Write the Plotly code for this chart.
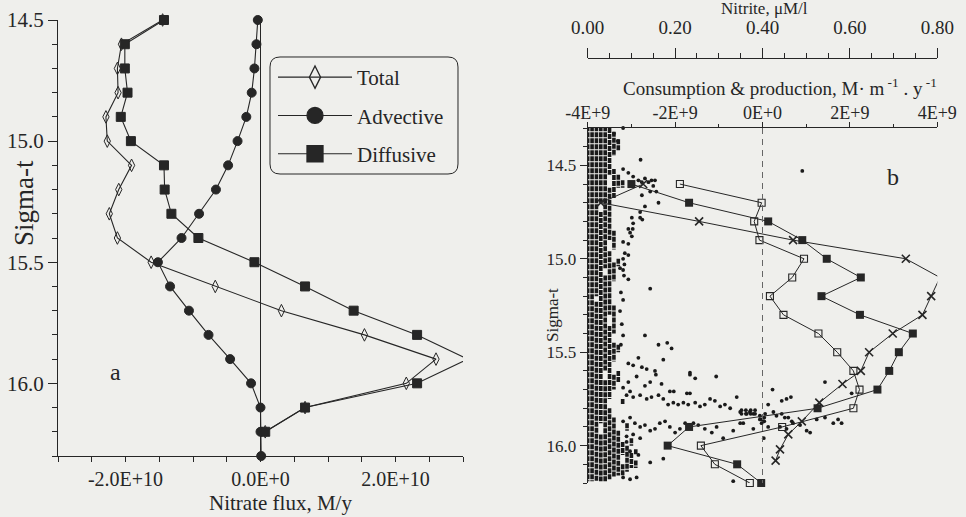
import plotly.graph_objects as go

# ---------------- Panel a: nitrate flux profiles ----------------
sigma_a = [14.5, 14.6, 14.7, 14.8, 14.9, 15.0, 15.1, 15.2, 15.3, 15.4,
           15.5, 15.6, 15.7, 15.8, 15.9, 16.0, 16.1, 16.2, 16.3]
# fluxes in units of 1E+10 M/y
total_flux = [-1.45, -2.06, -2.12, -2.11, -2.29, -2.27, -1.91, -2.10, -2.24, -2.12,
              -1.62, -0.67, 0.31, 1.54, 2.60, 2.16, 0.66, 0.07, None]
advective_flux = [-0.04, -0.06, -0.09, -0.13, -0.21, -0.34, -0.48, -0.66, -0.91, -1.17,
                  -1.52, -1.34, -1.06, -0.77, -0.45, -0.14, 0.0, 0.0, 0.01]
diffusive_flux = [-1.43, -2.01, -2.01, -1.97, -2.07, -1.92, -1.43, -1.42, -1.32, -0.92,
                  -0.09, 0.66, 1.38, 2.32, 3.07, 2.32, 0.66, 0.07, None]
flux_ticks = [-2e10, 0, 2e10]
flux_ticktext = ["-2.0E+10", "0.0E+0", "2.0E+10"]
sigma_ticks = [14.5, 15.0, 15.5, 16.0]
sigma_ticktext = ["14.5", "15.0", "15.5", "16.0"]

# ---------------- Panel b: consumption & production ----------------
sigma_open = [14.6, 14.7, 14.8, 14.9, 15.0, 15.1, 15.2, 15.3, 15.4, 15.5,
              15.6, 15.7, 15.8, 15.9, 16.0, 16.1, 16.2]
open_sq = [-1.89, -0.02, -0.19, -0.07, 0.95, 0.68, 0.17, 0.48, 1.28, 1.71,
           2.08, 2.22, 2.08, 0.45, -1.41, -1.09, -0.29]
sigma_filled = [14.6, 14.7, 14.8, 14.9, 15.0, 15.1, 15.2, 15.3, 15.4, 15.5,
                15.6, 15.7, 15.8, 15.9, 16.0, 16.1, 16.2]
filled_sq = [-3.0, -1.68, 0.13, 0.91, 1.47, 2.25, 1.35, 2.23, 3.44, 3.12,
             2.90, 2.63, 1.26, -1.68, -2.17, -0.58, -0.03]
sigma_cross = [14.6, 14.7, 14.8, 14.9, 15.0, 15.1, 15.2, 15.3, 15.4, 15.5,
               15.6, 15.67, 15.77, 15.87, 15.94, 16.02, 16.08]
cross_vals = [-2.73, -3.70, -1.45, 0.70, 3.28, 4.06, 3.86, 3.66, 2.98, 2.44,
              2.25, 1.83, 1.30, 0.90, 0.59, 0.40, 0.30]
cons_ticks = [-4e9, -2e9, 0, 2e9, 4e9]
cons_ticktext = ["-4E+9", "-2E+9", "0E+0", "2E+9", "4E+9"]
nitrite_ticks = [0.0, 0.2, 0.4, 0.6, 0.8]
nitrite_ticktext = ["0.00", "0.20", "0.40", "0.60", "0.80"]

# Nitrite samples: quantised values (0.01 uM) sampled densely in sigma-t;
# each column lists the sigma-t stretches that are continuously sampled.
dense_nitrite = [0.00, 0.01, 0.02, 0.03, 0.04, 0.05, 0.06, 0.07, 0.08, 0.09, 0.10, 0.11]
dense_runs = [
    [(14.29, 16.19)],
    [(14.29, 16.19)],
    [(14.29, 15.20), (15.23, 16.19)],
    [(14.29, 14.70), (14.75, 15.88), (15.94, 16.19)],
    [(14.29, 15.05), (15.09, 15.60), (15.65, 16.19)],
    [(14.30, 14.55), (14.62, 14.90), (14.96, 15.30), (15.36, 15.75), (15.80, 16.18)],
    [(14.32, 14.45), (14.52, 14.68), (14.85, 14.95), (15.02, 15.12), (15.25, 15.40),
     (15.45, 15.55), (15.62, 15.70), (15.85, 16.17)],
    [(14.36, 14.42), (14.55, 14.62), (15.00, 15.04), (15.46, 15.50), (15.60, 15.66),
     (15.92, 16.16)],
    [(14.58, 14.62), (15.75, 15.78), (15.98, 16.05), (16.10, 16.16)],
    [(15.88, 15.92), (16.00, 16.14)],
    [(15.96, 16.00), (16.04, 16.12)],
    [(16.02, 16.05), (16.08, 16.12)],
]
sparse_nitrite = [
    0.060, 0.081, 0.069, 0.121, 0.081, 0.093, 0.104, 0.116, 0.124, 0.131, 0.139, 0.146,
    0.150, 0.143, 0.162, 0.124, 0.131, 0.120, 0.104, 0.093, 0.101, 0.081, 0.093, 0.154,
    0.157, 0.101, 0.120, 0.125, 0.103, 0.097, 0.085, 0.093, 0.491,
    0.081, 0.084, 0.074, 0.081, 0.083, 0.093, 0.143, 0.076, 0.081, 0.074, 0.078, 0.081,
    0.076, 0.131, 0.162, 0.182, 0.192, 0.173, 0.093, 0.104, 0.116, 0.124, 0.135, 0.154, 0.234,
    0.112, 0.156, 0.234, 0.246, 0.294, 0.093, 0.131, 0.143, 0.169, 0.081, 0.097,
    0.188, 0.197, 0.227, 0.234, 0.089, 0.104, 0.120, 0.135, 0.146, 0.162,
    0.173, 0.184, 0.196, 0.207, 0.219, 0.230, 0.246, 0.257, 0.268, 0.280, 0.291, 0.303,
    0.314, 0.326, 0.341, 0.349, 0.364, 0.371, 0.379,
    0.081, 0.097, 0.108, 0.120, 0.131, 0.143, 0.154, 0.165, 0.177, 0.188, 0.200, 0.211,
    0.223, 0.242, 0.253, 0.268, 0.284, 0.295, 0.310, 0.333, 0.356, 0.379, 0.398, 0.413,
    0.089, 0.104, 0.120, 0.089, 0.097, 0.116, 0.143, 0.173, 0.081, 0.097, 0.112, 0.333,
    0.423, 0.543, 0.444, 0.455, 0.465, 0.604, 0.413, 0.425, 0.432, 0.444, 0.451, 0.459, 0.467,
    0.440, 0.455, 0.470, 0.486, 0.501, 0.509, 0.543, 0.562, 0.573, 0.581, 0.403, 0.349,
    0.524, 0.398, 0.406,
    0.352, 0.352, 0.362, 0.362, 0.373, 0.373, 0.383, 0.383, 0.394, 0.394, 0.404, 0.404,
]
sparse_sigma = [
    14.33, 14.30, 14.37, 14.47, 14.52, 14.54, 14.56, 14.58, 14.59, 14.57, 14.59, 14.58,
    14.61, 14.64, 14.70, 14.66, 14.72, 14.78, 14.81, 14.84, 14.88, 14.91, 14.92, 14.58,
    14.64, 14.78, 14.75, 14.79, 14.84, 14.86, 14.97, 14.98, 14.53,
    15.00, 15.03, 15.05, 15.06, 15.09, 15.11, 15.16, 15.18, 15.22, 15.28, 15.35, 15.41,
    15.46, 15.41, 15.46, 15.45, 15.48, 15.54, 15.56, 15.57, 15.53, 15.58, 15.59, 15.60, 15.61,
    15.63, 15.62, 15.62, 15.64, 15.63, 15.66, 15.68, 15.66, 15.67, 15.69, 15.71,
    15.71, 15.71, 15.72, 15.72, 15.73, 15.74, 15.73, 15.75, 15.74, 15.73,
    15.75, 15.78, 15.77, 15.78, 15.77, 15.78, 15.77, 15.79, 15.78, 15.75, 15.76, 15.79,
    15.78, 15.80, 15.74, 15.82, 15.83, 15.82, 15.83,
    15.87, 15.85, 15.88, 15.90, 15.89, 15.92, 15.91, 15.88, 15.87, 15.90, 15.93, 15.91,
    15.88, 15.88, 15.89, 15.91, 15.93, 15.90, 15.96, 15.92, 15.88, 15.91, 15.88, 15.90,
    15.95, 15.94, 15.96, 15.98, 16.03, 16.05, 16.09, 16.07, 16.17, 16.18, 16.17, 16.19,
    15.70, 15.66, 15.76, 15.75, 15.74, 15.72, 15.78, 15.82, 15.84, 15.83, 15.85, 15.85, 15.87,
    15.90, 15.91, 15.88, 15.89, 15.92, 15.93, 15.85, 15.88, 15.86, 15.88, 15.96, 15.88,
    15.86, 15.86, 15.83,
    15.81, 15.83, 15.81, 15.83, 15.81, 15.83, 15.81, 15.83, 15.84, 15.86, 15.85, 15.87,
]

# ---------------- styling ----------------
W, H = 966, 517
FONT = "Liberation Serif"
INK = "#262626"
BG = "#efefec"


def px(x):
    return x / W


def py(y):
    return 1 - y / H


def e10(vals):
    return [None if v is None else v * 1e10 for v in vals]


def e9(vals):
    return [v * 1e9 for v in vals]


fig = go.Figure()

# panel a traces (legend shown through separate key entries with larger symbols)
series_a = [
    ("Total", total_flux, "diamond-tall-open", 9),
    ("Advective", advective_flux, "circle", 9),
    ("Diffusive", diffusive_flux, "square", 9),
]
for name, vals, sym, size in series_a:
    fig.add_trace(go.Scatter(
        x=e10(vals), y=sigma_a, mode="lines+markers", name=name, showlegend=False,
        xaxis="x", yaxis="y", cliponaxis=False,
        line=dict(color=INK, width=1.1),
        marker=dict(symbol=sym, size=size, color=INK, line=dict(color=INK, width=1)),
    ))
for i, (name, vals, sym, size) in enumerate(series_a):
    fig.add_trace(go.Scatter(
        x=[None], y=[None], mode="lines+markers", name=name, legendgroup=f"g{i}",
        xaxis="x", yaxis="y",
        line=dict(color=INK, width=1.1),
        marker=dict(symbol=sym, size=16, color=INK, line=dict(color=INK, width=1.3)),
    ))

# panel b: nitrite samples (bottom layer, nitrite axis)
col_x, col_y = [], []
for nit, runs in zip(dense_nitrite, dense_runs):
    for s0, s1 in runs:
        col_x += [nit, nit, None]
        col_y += [s0, s1, None]
fig.add_trace(go.Scatter(
    x=col_x, y=col_y, mode="lines", xaxis="x3", yaxis="y2", showlegend=False,
    cliponaxis=False, line=dict(color="#1a1a1a", width=3.6, dash="5px,1px"),
))
fig.add_trace(go.Scatter(
    x=sparse_nitrite, y=sparse_sigma, mode="markers", xaxis="x3", yaxis="y2",
    showlegend=False, cliponaxis=False,
    marker=dict(symbol="circle", size=3.8, color="#1a1a1a"),
))

# panel b: consumption & production profiles (top layer)
fig.add_trace(go.Scatter(
    x=e9(open_sq), y=sigma_open, mode="lines+markers", xaxis="x4", yaxis="y2",
    showlegend=False, cliponaxis=False, line=dict(color=INK, width=1),
    marker=dict(symbol="square-open", size=7, color=INK, line=dict(color=INK, width=1.1)),
))
fig.add_trace(go.Scatter(
    x=e9(filled_sq), y=sigma_filled, mode="lines+markers", xaxis="x4", yaxis="y2",
    showlegend=False, cliponaxis=False, line=dict(color=INK, width=1),
    marker=dict(symbol="square", size=8, color=INK),
))
fig.add_trace(go.Scatter(
    x=e9(cross_vals), y=sigma_cross, mode="lines+markers", xaxis="x4", yaxis="y2",
    showlegend=False, cliponaxis=False, line=dict(color=INK, width=1),
    marker=dict(symbol="x-thin-open", size=8, color=INK, line=dict(color=INK, width=1.6)),
))

axis_common = dict(showgrid=False, showline=True, linecolor=INK, linewidth=1,
                   automargin=False, ticks="outside", tickcolor=INK, tickwidth=1,
                   tickfont=dict(family=FONT, color=INK))

fig.update_layout(
    template="none",
    width=W, height=H, margin=dict(l=0, r=0, t=0, b=0, pad=0),
    paper_bgcolor=BG, plot_bgcolor="rgba(0,0,0,0)",
    font=dict(family=FONT, color=INK),
    xaxis=dict(**axis_common, domain=[px(58), px(463)], anchor="y",
               range=[-3e10, 3e10], tickmode="array", tickvals=flux_ticks,
               ticktext=flux_ticktext, ticklen=5, tickfont_size=20,
               minor=dict(tickmode="linear", tick0=0, dtick=5e9, ticks="outside",
                          ticklen=5, tickcolor=INK),
               zeroline=True, zerolinecolor=INK, zerolinewidth=1),
    yaxis=dict(**axis_common, domain=[py(456), py(20)], anchor="x",
               range=[16.3, 14.5], tickmode="array", tickvals=sigma_ticks,
               ticktext=sigma_ticktext, ticklen=9, tickfont_size=21,
               minor=dict(tickmode="linear", tick0=0, dtick=0.1, ticks="outside",
                          ticklen=5, tickcolor=INK),
               zeroline=False),
    xaxis3=dict(**axis_common, domain=[px(587.7), px(937.3)], anchor="free",
                position=py(58), side="top", range=[0, 0.8], tickmode="array",
                tickvals=nitrite_ticks, ticktext=nitrite_ticktext, ticklen=10,
                tickfont_size=19, ticklabelstandoff=6,
                minor=dict(tickmode="linear", tick0=0, dtick=0.05, ticks="outside",
                           ticklen=5, tickcolor=INK),
                zeroline=False),
    xaxis4=dict(**axis_common, overlaying="x3", anchor="y2", side="top",
                range=[-4e9, 4e9], tickmode="array", tickvals=cons_ticks,
                ticktext=cons_ticktext, ticklen=5, tickfont_size=18,
                ticklabelstandoff=-4,
                minor=dict(tickmode="linear", tick0=0, dtick=1e9, ticks="outside",
                           ticklen=3, tickcolor=INK),
                zeroline=False),
    yaxis2=dict(**axis_common, domain=[py(483), py(128)], anchor="x3",
                range=[16.2, 14.3], tickmode="array", tickvals=sigma_ticks,
                ticktext=sigma_ticktext, ticklen=7, tickfont_size=17,
                minor=dict(tickmode="linear", tick0=0, dtick=0.1, ticks="outside",
                           ticklen=4, tickcolor=INK),
                zeroline=False),
    legend=dict(x=px(273), y=py(57), xanchor="left", yanchor="top",
                bgcolor="rgba(0,0,0,0)", borderwidth=0, itemwidth=74,
                tracegroupgap=8, font=dict(family=FONT, size=21, color=INK)),
)


def rounded_rect(x0, y0, x1, y1, r):
    pts = [
        ("M", x0 + r, y0), ("L", x1 - r, y0), ("Q", x1, y0, x1, y0 + r),
        ("L", x1, y1 - r), ("Q", x1, y1, x1 - r, y1), ("L", x0 + r, y1),
        ("Q", x0, y1, x0, y1 - r), ("L", x0, y0 + r), ("Q", x0, y0, x0 + r, y0),
    ]
    out = []
    for p in pts:
        cmd, coords = p[0], p[1:]
        xy = []
        for i in range(0, len(coords), 2):
            xy.append(f"{px(coords[i]):.5f},{py(coords[i + 1]):.5f}")
        out.append(cmd + " ".join(xy))
    return " ".join(out) + " Z"


fig.add_shape(type="path", xref="paper", yref="paper",
              path=rounded_rect(270, 57, 458, 174, 10),
              line=dict(color=INK, width=1))
# zero reference on the consumption axis
fig.add_shape(type="line", xref="x4", yref="y2", x0=0, x1=0, y0=14.3, y1=16.2,
              line=dict(color="#666", width=1, dash="6px,5px"))


def label(text, x, y, size, angle=0):
    fig.add_annotation(text=text, x=px(x), y=py(y), xref="paper", yref="paper",
                       showarrow=False, textangle=angle, xanchor="center",
                       yanchor="middle", font=dict(family=FONT, size=size, color=INK))


label("Sigma-t", 24, 203, 27, -90)
label("Nitrate flux, M/y", 280, 503, 21)
label("a", 115, 372, 24)
label("Sigma-t", 552, 315, 17, -90)
label("b", 893, 177, 24)
label("Nitrite, \u03bcM/l", 764, 8, 17)
label("Consumption &amp; production, M\u00b7 m<sup> -1</sup> . y<sup> -1</sup>", 780, 87, 19)

fig.write_html("out.html")
